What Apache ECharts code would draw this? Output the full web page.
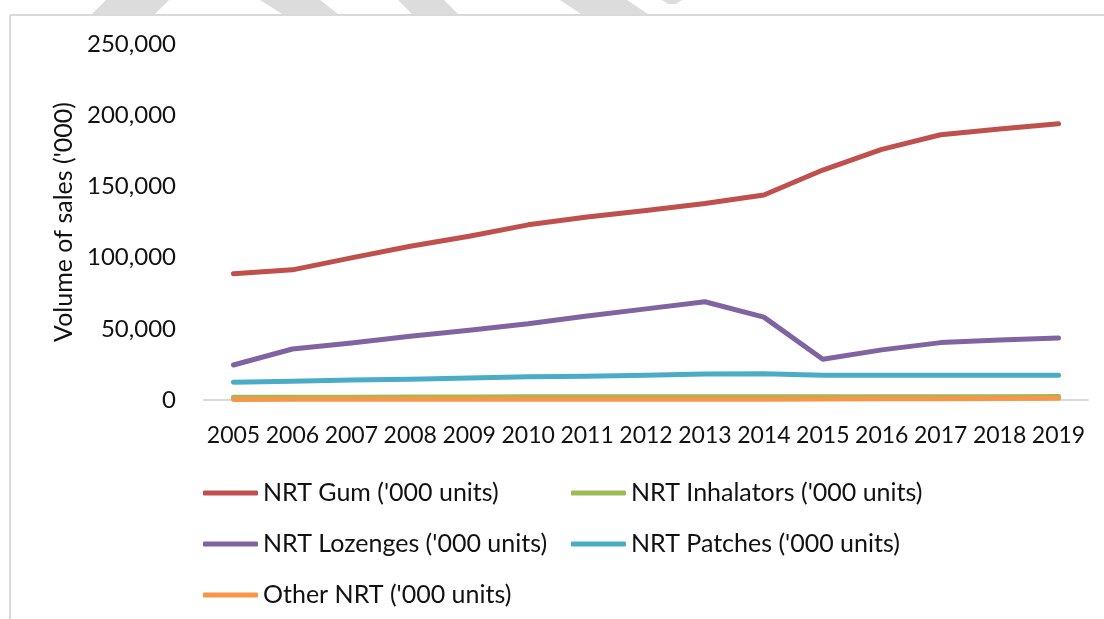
<!DOCTYPE html>
<html>
<head>
<meta charset="utf-8">
<script src="https://cdn.jsdelivr.net/npm/echarts@6/dist/echarts.min.js"></script>
<style>
  html, body { margin: 0; padding: 0; background: #fff; }
  #chart { width: 1104px; height: 619px; }
</style>
</head>
<body>
<div id="chart"></div>
<script>
// years on the x axis
const years = ['2005', '2006', '2007', '2008', '2009', '2010', '2011', '2012',
  '2013', '2014', '2015', '2016', '2017', '2018', '2019'];

// volume of sales ('000 units)
const gum = [88600, 91400, 99800, 108000, 115000, 123000, 128500, 133000,
  138000, 144000, 161500, 176000, 186300, 190300, 194000];
const inhalators = [1900, 2000, 2000, 2100, 2100, 2200, 2200, 2200,
  2200, 2200, 2200, 2200, 2200, 2300, 2400];
const lozenges = [24600, 35800, 40000, 44800, 49000, 53500, 59000, 64000,
  69000, 58200, 28600, 35200, 40300, 42200, 43600];
const patches = [12500, 13200, 14000, 14600, 15400, 16300, 16700, 17400,
  18200, 18400, 17400, 17400, 17400, 17400, 17400];
const otherNrt = [400, 500, 500, 500, 600, 600, 600, 600,
  600, 600, 700, 800, 900, 1100, 1300];

const yTicks = [0, 50000, 100000, 150000, 200000, 250000];

const FONT = 'Lato';
const colors = ['#C0504D', '#9BBB59', '#8064A2', '#4BACC6', '#F79646'];

let myChart = echarts.init(document.getElementById('chart'));

function mkLine(name, data, color) {
  return {
    name: name,
    type: 'line',
    data: data,
    symbol: 'none',
    smooth: false,
    lineStyle: { color: color, width: 5, cap: 'round', join: 'round' },
    itemStyle: { color: color }
  };
}

const legendText = { fontFamily: FONT, fontSize: 25, color: '#111', lineHeight: 30 };

let option = {
  animation: false,
  backgroundColor: '#fff',
  textStyle: { fontFamily: FONT, color: '#111' },
  grid: { left: 204, right: 16, top: 44, bottom: 219, containLabel: false },
  // two legends so the columns line up like the original
  legend: [
    {
      orient: 'vertical',
      left: 198, top: 473,
      icon: 'roundRect',
      itemWidth: 55, itemHeight: 5, itemGap: 21,
      data: ["NRT Gum ('000 units)", "NRT Lozenges ('000 units)", "Other NRT ('000 units)"],
      textStyle: legendText
    },
    {
      orient: 'vertical',
      left: 566, top: 473,
      icon: 'roundRect',
      itemWidth: 55, itemHeight: 5, itemGap: 21,
      data: ["NRT Inhalators ('000 units)", "NRT Patches ('000 units)"],
      textStyle: legendText
    }
  ],
  xAxis: {
    type: 'category',
    data: years,
    boundaryGap: true,
    axisLine: { lineStyle: { color: '#D9D9D9', width: 2 } },
    axisTick: { show: false },
    axisLabel: { interval: 0, margin: 24, fontSize: 23, color: '#111', fontFamily: FONT }
  },
  yAxis: {
    type: 'value',
    min: yTicks[0],
    max: yTicks[yTicks.length - 1],
    interval: yTicks[1] - yTicks[0],
    name: "Volume of sales ('000)",
    nameLocation: 'middle',
    nameGap: 128,
    nameRotate: 90,
    nameTextStyle: { fontSize: 25, color: '#111', fontFamily: FONT },
    axisLine: { show: false },
    axisTick: { show: false },
    splitLine: { show: false },
    axisLabel: {
      margin: 28, fontSize: 24, color: '#111', fontFamily: FONT,
      formatter: function (v) { return v.toLocaleString('en-US'); }
    }
  },
  series: [
    mkLine("NRT Gum ('000 units)", gum, colors[0]),
    mkLine("NRT Inhalators ('000 units)", inhalators, colors[1]),
    mkLine("NRT Lozenges ('000 units)", lozenges, colors[2]),
    mkLine("NRT Patches ('000 units)", patches, colors[3]),
    mkLine("Other NRT ('000 units)", otherNrt, colors[4])
  ],
  // frame and the faint watermark strip along the top
  graphic: [
    { type: 'polygon', shape: { points: [[106, 0], [169, 0], [155, 14], [92, 14]] }, style: { fill: '#DCDCDC' }, silent: true },
    { type: 'polygon', shape: { points: [[260, 0], [320, 0], [338, 14], [282, 14]] }, style: { fill: '#DCDCDC' }, silent: true },
    { type: 'polygon', shape: { points: [[398, 0], [444, 0], [458, 14], [412, 14]] }, style: { fill: '#DCDCDC' }, silent: true },
    { type: 'polygon', shape: { points: [[560, 0], [627, 0], [648, 14], [581, 14]] }, style: { fill: '#DCDCDC' }, silent: true },
    { type: 'polygon', shape: { points: [[662, 0], [682, 0], [676, 4], [668, 4]] }, style: { fill: '#DCDCDC' }, silent: true },
    { type: 'line', shape: { x1: 10, y1: 15, x2: 1104, y2: 15 }, style: { stroke: '#D9D9D9', lineWidth: 2 }, silent: true },
    { type: 'line', shape: { x1: 10, y1: 15, x2: 10, y2: 619 }, style: { stroke: '#D9D9D9', lineWidth: 2 }, silent: true }
  ]
};

myChart.setOption(option);
window.addEventListener('resize', function () { myChart.resize(); });
</script>
</body>
</html>
